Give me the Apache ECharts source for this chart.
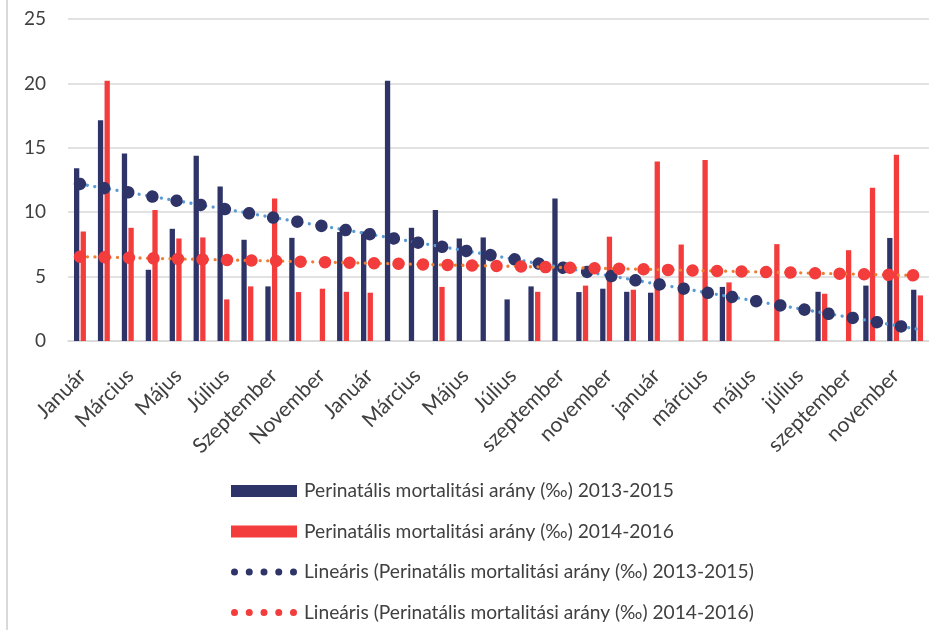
<!DOCTYPE html>
<html>
<head>
<meta charset="utf-8">
<script src="https://cdn.jsdelivr.net/npm/echarts@6/dist/echarts.min.js"></script>
<style>
html,body{margin:0;padding:0;background:#fff;}
#chart{width:929px;height:630px;}
</style>
</head>
<body>
<div id="chart"></div>
<script>
const categories = [
  'Január','Február','Március','Április','Május','Június','Július','Augusztus','Szeptember','Október','November','December',
  'Január','Február','Március','Április','Május','Június','Július','augusztus','szeptember','október','november','december',
  'január','február','március','április','május','június','július','augusztus','szeptember','október','november','december'
];

const seriesNames = [
  'Perinatális mortalitási arány (‰) 2013-2015',
  'Perinatális mortalitási arány (‰) 2014-2016',
  'Lineáris (Perinatális mortalitási arány (‰) 2013-2015)',
  'Lineáris (Perinatális mortalitási arány (‰) 2014-2016)'
];

const rate2013_2015 = [
  13.41, 17.13, 14.55, 5.53, 8.71, 14.39, 11.99, 7.86, 4.24, 8.01, null, 8.46,
  8.50, 20.20, 8.79, 10.18, 7.96, 8.04, 3.23, 4.24, 11.06, 3.80, 4.06, 3.82,
  3.75, null, null, 4.20, null, null, null, 3.82, null, 4.30, 8.00, 3.98
];

const rate2014_2016 = [
  8.50, 20.20, 8.79, 10.18, 7.96, 8.04, 3.23, 4.24, 11.06, 3.80, 4.06, 3.82,
  3.75, null, null, 4.20, null, null, null, 3.82, null, 4.30, 8.10, 3.98,
  13.93, 7.49, 14.06, 4.55, null, 7.52, null, 3.67, 7.05, 11.90, 14.47, 3.54
];

const trend2013_2015 = [
  12.19, 11.87, 11.55, 11.22, 10.90, 10.58, 10.26, 9.94, 9.61, 9.29, 8.97, 8.65,
  8.33, 8.00, 7.68, 7.36, 7.04, 6.72, 6.40, 6.07, 5.75, 5.43, 5.11, 4.79,
  4.46, 4.14, 3.82, 3.50, 3.18, 2.85, 2.53, 2.21, 1.89, 1.57, 1.24, 0.92
];

const trend2014_2016 = [
  6.55, 6.51, 6.47, 6.42, 6.38, 6.34, 6.30, 6.26, 6.22, 6.17, 6.13, 6.09,
  6.05, 6.01, 5.96, 5.92, 5.88, 5.84, 5.80, 5.76, 5.71, 5.67, 5.63, 5.59,
  5.55, 5.50, 5.46, 5.42, 5.38, 5.34, 5.30, 5.25, 5.21, 5.17, 5.13, 5.09
];

const yTicks = { min: 0, max: 25, interval: 5 };

const NAVY = '#2f3468';
const RED = '#f33c3c';
const LIGHTBLUE = '#5b9bd5';
const ORANGE = '#ed7d31';
const TEXT = '#404040';
const GRID = '#d9d9d9';
const FONT = 'Lato';

function dotsPath() {
  let p = 'path://';
  const r = 3.5, step = 14.75;
  for (let i = 0; i < 5; i++) {
    const cx = r + i * step;
    p += 'M' + (cx - r) + ',' + r + 'a' + r + ',' + r + ' 0 1,0 ' + (2 * r) + ',0a' + r + ',' + r + ' 0 1,0 ' + (-2 * r) + ',0z';
  }
  return p;
}

const chart = echarts.init(document.getElementById('chart'), null, { renderer: 'canvas' });

chart.setOption({
  animation: false,
  backgroundColor: '#ffffff',
  textStyle: { fontFamily: FONT },
  grid: { left: 68, right: -10, top: 19, bottom: 289, containLabel: false },
  graphic: [{
    type: 'line',
    shape: { x1: 7, y1: 0, x2: 7, y2: 630 },
    style: { stroke: GRID, lineWidth: 2 },
    silent: true
  }],
  legend: {
    orient: 'vertical',
    left: 231,
    top: 481,
    height: 200,
    padding: 0,
    itemWidth: 66,
    itemHeight: 12,
    itemGap: 20.5,
    selectedMode: false,
    textStyle: { color: TEXT, fontSize: 19.2, fontFamily: FONT, lineHeight: 20, padding: [0, 0, 0, 2] },
    data: [
      { name: seriesNames[0], icon: 'rect' },
      { name: seriesNames[1], icon: 'rect' },
      { name: seriesNames[2], icon: dotsPath(), itemStyle: { color: NAVY } },
      { name: seriesNames[3], icon: dotsPath(), itemStyle: { color: RED } }
    ]
  },
  xAxis: {
    type: 'category',
    data: categories,
    boundaryGap: true,
    axisTick: { show: false },
    axisLine: { show: true, lineStyle: { color: GRID, width: 1.5 } },
    axisLabel: {
      interval: 1,
      rotate: 45,
      margin: 19,
      verticalAlign: 'top',
      padding: [0, 7, 0, 0],
      color: TEXT,
      fontSize: 21,
      fontFamily: FONT
    },
    splitLine: { show: false }
  },
  yAxis: {
    type: 'value',
    min: yTicks.min,
    max: yTicks.max,
    interval: yTicks.interval,
    axisLine: { show: false },
    axisTick: { show: false },
    axisLabel: { color: TEXT, fontSize: 19, fontFamily: FONT, margin: 22 },
    splitLine: { lineStyle: { color: GRID, width: 1.5 } }
  },
  series: [
    {
      name: seriesNames[0],
      type: 'bar',
      data: rate2013_2015,
      barWidth: 5.3,
      barGap: '25%',
      itemStyle: { color: NAVY },
      z: 2
    },
    {
      name: seriesNames[1],
      type: 'bar',
      data: rate2014_2016,
      barWidth: 5.3,
      barGap: '25%',
      itemStyle: { color: RED },
      z: 2
    },
    {
      name: 'trend-small-1',
      type: 'line',
      data: trend2013_2015,
      symbol: 'none',
      silent: true,
      lineStyle: { color: LIGHTBLUE, width: 3.3, type: [0.01, 7.5], cap: 'round' },
      z: 3
    },
    {
      name: seriesNames[2],
      type: 'line',
      data: trend2013_2015,
      symbol: 'none',
      silent: true,
      itemStyle: { color: NAVY },
      lineStyle: { color: NAVY, width: 12.5, type: [0.01, 24.5], cap: 'round' },
      z: 4
    },
    {
      name: 'trend-small-2',
      type: 'line',
      data: trend2014_2016,
      symbol: 'none',
      silent: true,
      lineStyle: { color: ORANGE, width: 3.3, type: [0.01, 7.5], cap: 'round' },
      z: 5
    },
    {
      name: seriesNames[3],
      type: 'line',
      data: trend2014_2016,
      symbol: 'none',
      silent: true,
      itemStyle: { color: RED },
      lineStyle: { color: RED, width: 12.5, type: [0.01, 24.5], cap: 'round' },
      z: 6
    }
  ]
});
</script>
</body>
</html>
